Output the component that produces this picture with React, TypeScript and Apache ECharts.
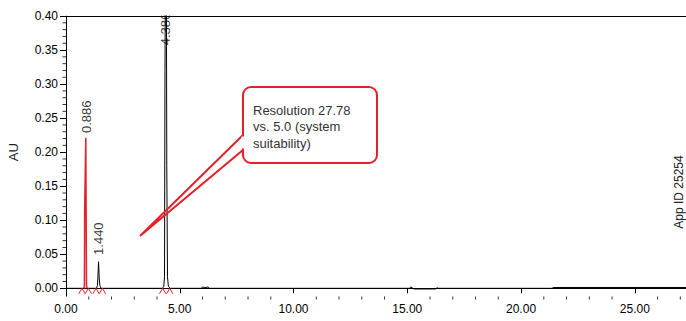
import React, { useEffect, useRef } from "react";
import * as echarts from "echarts";

// ---- data ----
// black trace (time in min, absorbance in AU)
const blackTime = [0, 1.34, 1.38, 1.4, 1.43, 1.46, 1.49, 1.54, 4.24, 4.3, 4.33, 4.35, 4.37, 4.41, 4.43, 4.46, 4.5, 4.58, 5.95, 6.0, 6.1, 6.25, 6.3, 15.1, 15.15, 15.25, 15.3, 16.25, 16.3, 16.35, 21.35, 21.45, 27.25];
const blackAU = [0, 0, 0.004, 0.015, 0.039, 0.015, 0.004, 0, 0, 0.003, 0.017, 0.32, 0.46, 0.46, 0.18, 0.017, 0.003, 0, 0, 0.002, 0.001, 0.002, 0, 0, 0.002, 0, -0.001, -0.001, 0.001, 0, 0, 0.0012, 0.0012];
// red (integrated) peak at 0.886
const redTime = [0.79, 0.81, 0.82, 0.87, 0.885, 0.9, 0.92];
const redAU = [0, 0.005, 0.113, 0.221, 0.113, 0.005, 0];
// integration start/end marks
const markTimes = [0.7, 0.98, 1.32, 1.6, 4.25, 4.56];
// peak labels
const peakNames = ["0.886", "1.440", "4.386"];
const peakTimes = [0.886, 1.44, 4.386];
const peakLabelAU = [0.228, 0.049, 0.357];
// axes
const xMin = 0;
const xMax = 30; // axis runs past the cropped right edge (visible up to ~27.25)
const xInterval = 5;
const yMin = 0;
const yMax = 0.4;
const yInterval = 0.05;
const xMinorTicks = [1, 2, 3, 4, 6, 7, 8, 9, 11, 12, 13, 14, 16, 17, 18, 19, 21, 22, 23, 24, 26, 27];
const yMinorTicks = [0.01, 0.02, 0.03, 0.04, 0.06, 0.07, 0.08, 0.09, 0.11, 0.12, 0.13, 0.14, 0.16, 0.17, 0.18, 0.19, 0.21, 0.22, 0.23, 0.24, 0.26, 0.27, 0.28, 0.29, 0.31, 0.32, 0.33, 0.34, 0.36, 0.37, 0.38, 0.39];

const RED = "#e4202a";
const FONT = "Liberation Sans, Arial, sans-serif";
const PX_PER_MIN = 22.75;
const VISIBLE_X_MAX = 27.25;
const X_AXIS_OFFSET = 7.7;

export default function App() {
  const ref = useRef<HTMLDivElement>(null);
  useEffect(() => {
    document.body.style.margin = "0";
    const chart = echarts.init(ref.current!, null, { renderer: "svg" });
    const markData: any[] = [];
    markTimes.forEach((t) => {
      markData.push([t - 0.14, -0.008], [t, 0], [t + 0.14, -0.008], [null, null]);
    });
    const gridRight = -(xMax - VISIBLE_X_MAX) * PX_PER_MIN;
    const option: any = {
      animation: false,
      textStyle: { fontFamily: FONT },
      grid: { left: 66, right: gridRight, top: 16, bottom: 32.7, containLabel: false, outerBoundsMode: "none" },
      xAxis: [
        {
          type: "value",
          min: xMin,
          max: xMax,
          interval: xInterval,
          position: "bottom",
          offset: X_AXIS_OFFSET,
          axisLine: { lineStyle: { color: "#000" } },
          axisTick: { length: 5, lineStyle: { color: "#000" } },
          splitLine: { show: false },
          axisLabel: {
            margin: 7,
            color: "#000",
            fontSize: 12,
            fontFamily: FONT,
            formatter: (v: number) => (v > VISIBLE_X_MAX ? "" : v.toFixed(2)),
          },
        },
        {
          type: "value",
          min: xMin,
          max: xMax,
          position: "top",
          axisLine: { show: true, lineStyle: { color: "#000" } },
          axisTick: { show: false },
          axisLabel: { show: false },
          splitLine: { show: false },
        },
      ],
      yAxis: {
        type: "value",
        min: yMin,
        max: yMax,
        interval: yInterval,
        position: "left",
        name: "AU",
        nameLocation: "middle",
        nameGap: 46,
        nameRotate: 90,
        nameTextStyle: { fontSize: 13, color: "#222", fontFamily: FONT },
        axisLine: { show: true, lineStyle: { color: "#000" } },
        axisTick: { show: true, length: 6, lineStyle: { color: "#000" } },
        splitLine: { show: false },
        axisLabel: {
          margin: 8,
          color: "#000",
          fontSize: 12,
          fontFamily: FONT,
          formatter: (v: number) => v.toFixed(2),
        },
      },
      series: [
        {
          type: "line",
          data: blackTime.map((t, i) => [t, blackAU[i]]),
          showSymbol: false,
          lineStyle: { color: "#000", width: 1 },
          clip: false,
          z: 3,
        },
        {
          type: "line",
          data: redTime.map((t, i) => [t, redAU[i]]),
          showSymbol: false,
          lineStyle: { color: RED, width: 1.5 },
          clip: false,
          z: 4,
        },
        {
          type: "line",
          data: markData,
          showSymbol: false,
          connectNulls: false,
          lineStyle: { color: RED, width: 1 },
          clip: false,
          z: 4,
        },
        {
          type: "scatter",
          symbolSize: 0,
          data: peakTimes.map((t, i) => ({ name: peakNames[i], value: [t, peakLabelAU[i]] })),
          label: {
            show: true,
            position: [0, 0],
            rotate: 90,
            align: "left",
            verticalAlign: "middle",
            formatter: (p: any) => p.name,
            fontSize: 13,
            color: "#000",
            fontFamily: FONT,
          },
          z: 5,
        },
        {
          // minor ticks on the time axis
          type: "scatter",
          clip: false,
          silent: true,
          symbol: "rect",
          symbolSize: [1, 3],
          symbolOffset: [0, X_AXIS_OFFSET + 2],
          itemStyle: { color: "#000" },
          data: xMinorTicks.map((v) => [v, yMin]),
          z: 2,
        },
        {
          // minor ticks on the AU axis
          type: "scatter",
          clip: false,
          silent: true,
          symbol: "rect",
          symbolSize: [3.5, 1],
          symbolOffset: [-1.75, 0],
          itemStyle: { color: "#000" },
          data: yMinorTicks.map((v) => [xMin, v]),
          z: 2,
        },
      ],
      graphic: [
        // white margin above the plot frame (hides the off-scale peak and the top of its label)
        { type: "rect", z: 100, shape: { x: 66, y: 0, width: 620, height: 15.5 }, style: { fill: "#fff" } },
        // y-axis line continues down to the offset x-axis
        { type: "line", z: 100, shape: { x1: 66.5, y1: 288, x2: 66.5, y2: 296.5 }, style: { stroke: "#000", lineWidth: 1 } },
        {
          type: "rect",
          z: 100,
          shape: { x: 243, y: 87, width: 134, height: 76, r: 8 },
          style: { fill: "#fff", stroke: RED, lineWidth: 2 },
        },
        {
          type: "polyline",
          z: 101,
          shape: { points: [[243, 135], [140, 236], [243, 150]] },
          style: { stroke: RED, lineWidth: 2, fill: null },
        },
        {
          type: "line",
          z: 102,
          shape: { x1: 243, y1: 136.5, x2: 243, y2: 148.5 },
          style: { stroke: "#fff", lineWidth: 3 },
        },
        {
          type: "text",
          z: 103,
          x: 253,
          y: 102,
          style: {
            text: "Resolution 27.78\nvs. 5.0 (system\nsuitability)",
            fontSize: 13,
            lineHeight: 16.5,
            fill: "#333",
            fontFamily: FONT,
            verticalAlign: "top",
            align: "left",
          },
        },
        {
          type: "text",
          z: 103,
          x: 679,
          y: 192,
          rotation: Math.PI / 2,
          style: {
            text: "App ID 25254",
            fontSize: 12,
            fill: "#222",
            fontFamily: FONT,
            align: "center",
            verticalAlign: "middle",
          },
        },
      ],
    };
    chart.setOption(option);
    return () => chart.dispose();
  }, []);
  return <div ref={ref} style={{ width: 686, height: 321 }} />;
}
